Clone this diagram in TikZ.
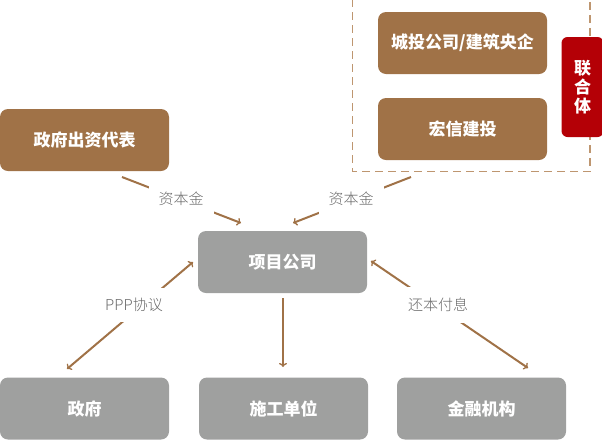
\documentclass[tikz,border=0pt]{standalone}
\usepackage{fontspec}
\newfontfamily\cjk{Noto Sans CJK SC}
\IfFontExistsTF{Noto Sans CJK SC Light}{\newfontfamily\cjklight{Noto Sans CJK SC Light}}{\newfontfamily\cjklight{Noto Sans CJK SC}}
\usetikzlibrary{arrows.meta}
\definecolor{brownbox}{RGB}{160,114,71}
\definecolor{graybox}{RGB}{159,160,159}
\definecolor{redbox}{RGB}{180,0,6}
\definecolor{dashc}{RGB}{190,150,112}
\definecolor{arrowc}{RGB}{160,114,71}
\definecolor{lblc}{RGB}{105,105,105}
\tikzset{
  x=1pt, y=-1pt,
  boxbase/.style={rounded corners=8pt, minimum width=169pt, minimum height=62pt, inner sep=0pt,
    text=white, font=\cjk\bfseries\fontsize{17}{20}\selectfont},
  brownb/.style={boxbase, fill=brownbox},
  grayb/.style={boxbase, fill=graybox},
  redb/.style={rounded corners=6pt, fill=redbox, minimum width=42pt, minimum height=100pt, inner sep=0pt,
    text=white, font=\cjk\bfseries\fontsize{17}{19}\selectfont, align=center},
  conn/.style={draw=arrowc, line width=2pt, -{To[length=4pt,width=8pt,line width=1.3pt]}},
  dconn/.style={draw=arrowc, line width=2pt, {To[length=4pt,width=8pt,line width=1.3pt]}-{To[length=4pt,width=8pt,line width=1.3pt]}},
  lbl/.style={text=lblc, font=\cjklight\fontsize{15}{17}\selectfont, fill=white},
}
\begin{document}
\begin{tikzpicture}
\useasboundingbox (0,0) rectangle (602,440);
% dashed group
\draw[dashc, line width=1.6pt, dash pattern=on 8pt off 5pt] (352.5,-1) rectangle (590,171.5);
\node[brownb] (ct) at (462.5,43) {城投公司/建筑央企};
\node[brownb] (hx) at (462.5,129) {宏信建投};
\node[redb] (lht) at (582.5,87) {联\\合\\体};
\node[brownb] (rep) at (84.5,140) {政府出资代表};
\node[grayb] (proj) at (282.5,262) {项目公司};
\node[grayb] (gov) at (84.5,408.5) {政府};
\node[grayb] (sg) at (283.5,408.5) {施工单位};
\node[grayb] (fin) at (481.5,408.5) {金融机构};
% connector end points
\coordinate (repS) at (122,177);
\coordinate (projL) at (241,223);
\coordinate (jvS) at (411,177);
\coordinate (projR) at (293,223);
\coordinate (projW) at (193,262);
\coordinate (govN) at (67,369);
\coordinate (projS) at (283,298);
\coordinate (sgN) at (283,367);
\coordinate (projE) at (371,261);
\coordinate (finN) at (528,368);
\draw[conn] (repS) -- (projL);
\draw[conn] (jvS) -- (projR);
\draw[dconn] (projW) -- (govN);
\draw[conn] (projS) -- (sgN);
\draw[dconn] (projE) -- (finN);
\node[lbl, inner xsep=10pt, inner ysep=8pt] (l1) at (181,199) {资本金};
\node[lbl, inner xsep=10pt, inner ysep=8pt] (l2) at (351,199) {资本金};
\node[lbl, inner xsep=6pt, inner ysep=10pt] (l3) at (134,305) {PPP协议};
\node[lbl, inner xsep=6pt, inner ysep=11pt] (l4) at (438,305) {还本付息};
\end{tikzpicture}
\end{document}
